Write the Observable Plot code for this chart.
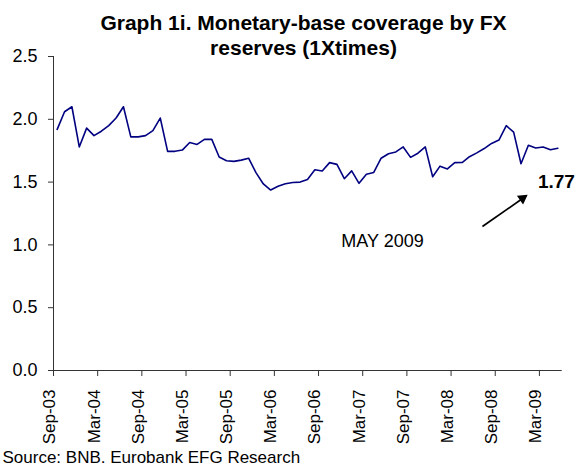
<!DOCTYPE html>
<html>
<head>
<meta charset="utf-8">
<script src="https://cdn.jsdelivr.net/npm/d3@7"></script>
<script src="https://cdn.jsdelivr.net/npm/@observablehq/plot@0.6"></script>
<style>
  html, body { margin: 0; padding: 0; background: #fff; }
</style>
</head>
<body>
<div id="chart"></div>
<script>
// Monthly values, Sep-2003 .. May-2009
const values = [
  1.92, 2.06, 2.10, 1.78, 1.93, 1.87, 1.905, 1.95, 2.01, 2.10, 1.86, 1.86,
  1.87, 1.91, 2.01, 1.745, 1.745, 1.755, 1.815, 1.80, 1.84, 1.84, 1.70, 1.67,
  1.665, 1.675, 1.69, 1.575, 1.485, 1.437, 1.467, 1.487, 1.497, 1.50, 1.52, 1.598,
  1.589, 1.655, 1.641, 1.527, 1.589, 1.49, 1.562, 1.577, 1.69, 1.726, 1.74, 1.78,
  1.697, 1.73, 1.78, 1.543, 1.627, 1.605, 1.655, 1.656, 1.702, 1.733, 1.767, 1.808,
  1.835, 1.949, 1.898, 1.646, 1.793, 1.772, 1.78, 1.757, 1.77
];
const tickLabels = ["Sep-03","Mar-04","Sep-04","Mar-05","Sep-05","Mar-06",
                    "Sep-06","Mar-07","Sep-07","Mar-08","Sep-08","Mar-09"];
const yTicks = [0, 0.5, 1.0, 1.5, 2.0, 2.5];
const titleLines = ["Graph 1i. Monetary-base coverage by FX", "reserves (1Xtimes)"];
const sourceText = "Source: BNB. Eurobank EFG Research";
const dateNote = "MAY 2009";

const tickEvery = 6;
const boundaries = tickLabels.map((d, i) => i * tickEvery - 0.5);
const font = "'Liberation Sans', Arial, Helvetica, sans-serif";
const lastValue = values[values.length - 1];

// annotation anchors (data space)
const noteDate = [{x: 38.6, y: 0.987, text: dateNote}];
const noteValue = [{x: 65.3, y: 1.457, text: lastValue.toFixed(2)}];
const arrowShaft = [{x1: 57.76, y1: 1.146, x2: 63.3, y2: 1.373}];
const arrowHead = [{x: 63.21, y: 1.370}];

const chart = Plot.plot({
  width: 576,
  height: 466,
  marginTop: 56,
  marginBottom: 96,
  marginLeft: 53,
  marginRight: 15,
  style: {fontFamily: font, color: "black", background: "white", overflow: "visible"},
  x: {domain: [-0.5, values.length - 0.5], axis: null},
  y: {domain: [0, 2.5], axis: null},
  marks: [
    Plot.ruleX([-0.5], {y1: 0, y2: 2.5, stroke: "#333"}),
    Plot.ruleY([0], {x1: -0.5, x2: values.length - 0.4, stroke: "#333"}),
    Plot.axisY({ticks: yTicks, tickSize: 5, tickPadding: 11, tickFormat: d => d.toFixed(1),
                fontSize: 18, label: null, stroke: "#333"}),
    Plot.axisX({ticks: boundaries, tickSize: 6, tickFormat: () => "", label: null, stroke: "#333"}),
    Plot.text(tickLabels, {x: (d, i) => i * tickEvery - 0.25, text: d => d, frameAnchor: "bottom",
                dy: 19, rotate: -90, textAnchor: "end", fontSize: 17, fill: "black"}),
    Plot.line(values, {x: (d, i) => i, y: d => d, stroke: "#000080", strokeWidth: 1.6}),
    Plot.text([titleLines[0]], {frameAnchor: "top", dx: -4, dy: -27, lineAnchor: "bottom",
                fontWeight: "bold", fontSize: 21, fill: "black"}),
    Plot.text([titleLines[1]], {frameAnchor: "top", dx: -4, dy: -2, lineAnchor: "bottom",
                fontWeight: "bold", fontSize: 21, fill: "black"}),
    Plot.text([sourceText], {frameAnchor: "bottom-left", dx: -51, dy: 92, lineAnchor: "bottom",
                textAnchor: "start", fontSize: 17, fill: "black"}),
    Plot.text(noteDate, {x: "x", y: "y", text: "text", textAnchor: "start", lineAnchor: "bottom",
                fontSize: 18, fill: "black"}),
    Plot.text(noteValue, {x: "x", y: "y", text: "text", textAnchor: "start", lineAnchor: "bottom",
                fontSize: 19, fontWeight: "bold", fill: "black"}),
    Plot.link(arrowShaft, {x1: "x1", y1: "y1", x2: "x2", y2: "y2", stroke: "black", strokeWidth: 1.7}),
    Plot.dot(arrowHead, {x: "x", y: "y", symbol: "triangle", r: 4, rotate: 55, fill: "black", stroke: "none"})
  ]
});
document.getElementById("chart").appendChild(chart);
</script>
</body>
</html>
